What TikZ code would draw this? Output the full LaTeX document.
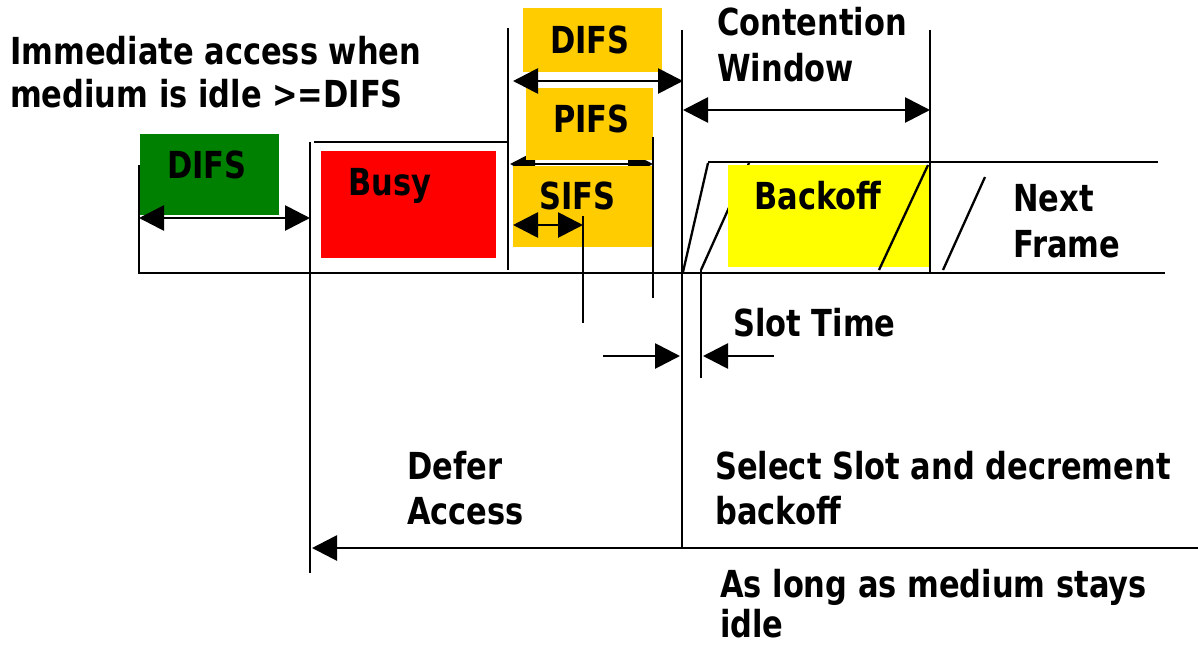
\documentclass[tikz,border=0pt]{standalone}
\usepackage{fontspec}
\setmainfont{DejaVu Sans}
\usetikzlibrary{arrows.meta}

% bold label text, slightly stretched vertically
\newcommand\lbltext[1]{\scalebox{1}[1.22]{\fontsize{30.5}{36}\selectfont\bfseries #1}}

\definecolor{difsgreen}{RGB}{0,128,0}
\definecolor{busyred}{RGB}{255,0,0}
\definecolor{ifsamber}{RGB}{255,204,0}
\definecolor{backyellow}{RGB}{255,255,0}

\tikzset{
  ln/.style={line width=2.8pt, line cap=butt},
  slant/.style={line width=2.3pt},
  box/.style={draw=none, inner sep=0pt, anchor=north west},
  lbl/.style={inner sep=0pt, anchor=base west},
  tip/.tip={Triangle[length=25pt,width=25pt]},
  dimline/.style={ln, tip-tip},
  toarrow/.style={ln, -tip},
}

\begin{document}
\begin{tikzpicture}[x=1pt,y=-1pt]
\useasboundingbox (0,0) rectangle (1198,646);

% ---- end points of lines ----
\coordinate (tl0) at (138,273);   \coordinate (tl1) at (1165,273);
\coordinate (ft0) at (708,162);   \coordinate (ft1) at (1158,162);
\coordinate (va0) at (139,165);   \coordinate (va1) at (139,273);
\coordinate (vb0) at (310,142);   \coordinate (vb1) at (310,573);
\coordinate (bt0) at (314,142);   \coordinate (bt1) at (507,142);
\coordinate (vc0) at (508,28);    \coordinate (vc1) at (508,270);
\coordinate (vd0) at (682,30);    \coordinate (vd1) at (682,548);
\coordinate (ve0) at (930,30);    \coordinate (ve1) at (930,273);
\coordinate (vs0) at (583,216);   \coordinate (vs1) at (583,323);
\coordinate (vp0) at (653,137);   \coordinate (vp1) at (653,298);
\coordinate (vt0) at (701,270);   \coordinate (vt1) at (701,378);

% ---- boxes ----
\node[box, fill=difsgreen, minimum width=139pt, minimum height=81pt] (gdifs) at (140,134) {};
\node[box, fill=busyred, minimum width=175pt, minimum height=107pt] (busy) at (321,151) {};
\node[box, fill=ifsamber, minimum width=139pt, minimum height=64pt] (ydifs) at (523,8) {};

% PIFS dimension sits behind the PIFS / SIFS boxes
\coordinate (pa0) at (510,164); \coordinate (pa1) at (653,164);
\draw[dimline] (pa0) -- (pa1);

\node[box, fill=ifsamber, minimum width=127pt, minimum height=72pt] (pifs) at (526,88) {};
\node[box, fill=ifsamber, minimum width=140pt, minimum height=81pt] (sifs) at (513,166) {};

% hidden slant behind the backoff box
\coordinate (sl2a) at (701,270); \coordinate (sl2b) at (749,163);
\draw[slant] (sl2a) -- (sl2b);

\node[box, fill=backyellow, minimum width=202pt, minimum height=102pt] (backoff) at (728,165) {};

% ---- straight lines ----
\draw[ln] (tl0) -- (tl1);
\draw[ln] (ft0) -- (ft1);
\draw[ln] (va0) -- (va1);
\draw[ln] (vb0) -- (vb1);
\draw[ln] (bt0) -- (bt1);
\draw[ln] (vc0) -- (vc1);
\draw[ln] (vd0) -- (vd1);
\draw[ln] (ve0) -- (ve1);
\draw[ln] (vs0) -- (vs1);
\draw[ln] (vp0) -- (vp1);
\draw[ln] (vt0) -- (vt1);

% slanted frame edges
\coordinate (sl1a) at (683,272); \coordinate (sl1b) at (708,163);
\coordinate (sl3a) at (879,270); \coordinate (sl3b) at (928,165);
\coordinate (sl4a) at (943,270); \coordinate (sl4b) at (985,177);
\draw[slant] (sl1a) -- (sl1b);
\draw[slant] (sl3a) -- (sl3b);
\draw[slant] (sl4a) -- (sl4b);

% ---- dimension arrows ----
\coordinate (ga0) at (139,218); \coordinate (ga1) at (310,218);
\draw[dimline] (ga0) -- (ga1);
\coordinate (da0) at (513,81); \coordinate (da1) at (683,81);
\draw[dimline] (da0) -- (da1);
\coordinate (sa0) at (513,225); \coordinate (sa1) at (583,225);
\draw[dimline] (sa0) -- (sa1);
\coordinate (ca0) at (683,110); \coordinate (ca1) at (930,110);
\draw[dimline] (ca0) -- (ca1);

% slot time arrows
\coordinate (st0) at (603,356); \coordinate (st1) at (680,356);
\coordinate (st2) at (774,356); \coordinate (st3) at (703,356);
\draw[toarrow] (st0) -- (st1);
\draw[toarrow] (st2) -- (st3);

% defer access arrow
\coordinate (df0) at (1198,548); \coordinate (df1) at (312,548);
\draw[toarrow] (df0) -- (df1);

% ---- labels ----
\node[lbl] (t1) at (10,64) {\lbltext{Immediate access when}};
\node[lbl] (t2) at (10,107) {\lbltext{medium is idle >=DIFS}};
\node[lbl] (t3) at (167,178) {\lbltext{DIFS}};
\node[lbl] (t4) at (348,195) {\lbltext{Busy}};
\node[lbl] (t5) at (550,53) {\lbltext{DIFS}};
\node[lbl] (t6) at (553,132) {\lbltext{PIFS}};
\node[lbl] (t7) at (539,209) {\lbltext{SIFS}};
\node[lbl] (t8) at (717,35) {\lbltext{Contention}};
\node[lbl] (t9) at (717,81) {\lbltext{Window}};
\node[lbl] (t10) at (754,209) {\lbltext{Backoff}};
\node[lbl] (t11) at (1013,211) {\lbltext{Next}};
\node[lbl] (t12) at (1013,257) {\lbltext{Frame}};
\node[lbl] (t13) at (733,336) {\lbltext{Slot Time}};
\node[lbl] (t14) at (407,479) {\lbltext{Defer}};
\node[lbl] (t15) at (407,524) {\lbltext{Access}};
\node[lbl] (t16) at (715,479) {\lbltext{Select Slot and decrement}};
\node[lbl] (t17) at (715,524) {\lbltext{backoff}};
\node[lbl] (t18) at (720,597) {\lbltext{As long as medium stays}};
\node[lbl] (t19) at (720,637) {\lbltext{idle}};
\end{tikzpicture}
\end{document}
